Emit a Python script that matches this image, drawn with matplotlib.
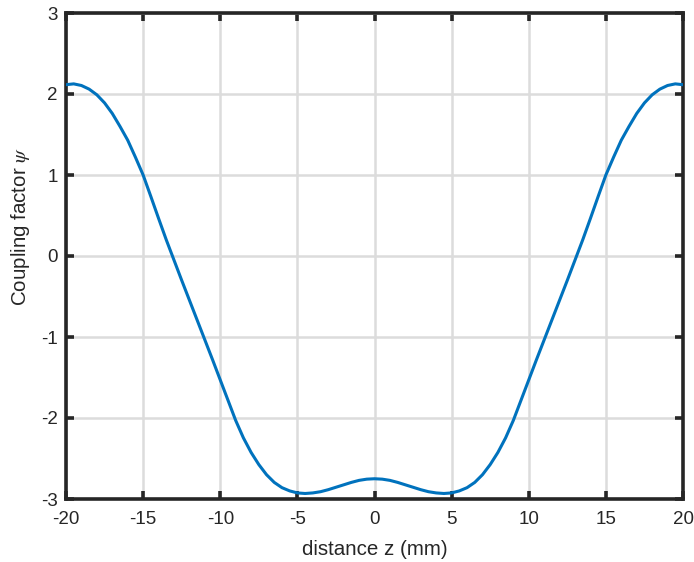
import numpy as np
import matplotlib
matplotlib.use("Agg")
import matplotlib.pyplot as plt

plt.rcParams['font.family'] = ['Liberation Sans', 'DejaVu Sans']
plt.rcParams['axes.unicode_minus'] = False
plt.rcParams['mathtext.fontset'] = 'stix'

# distance z (mm), half-mm steps (curve is symmetric about z = 0)
z_half = [0, 0.5, 1, 1.5, 2, 2.5, 3, 3.5, 4, 4.5, 5, 5.5, 6, 6.5, 7, 7.5, 8, 8.5,
          9, 9.5, 10, 10.5, 11, 11.5, 12, 12.5, 13, 13.5, 14, 14.5, 15, 15.5,
          16, 16.5, 17, 17.5, 18, 18.5, 19, 19.5, 20]
psi_half = [-2.75, -2.755, -2.77, -2.795, -2.825, -2.855, -2.885, -2.91, -2.925, -2.932,
            -2.925, -2.90, -2.86, -2.795, -2.70, -2.575, -2.425, -2.245, -2.03, -1.78,
            -1.53, -1.28, -1.035, -0.79, -0.545, -0.30, -0.05, 0.20, 0.465, 0.735,
            1.00, 1.22, 1.43, 1.60, 1.76, 1.89, 1.99, 2.06, 2.105, 2.125, 2.115]

z = [-v for v in z_half[:0:-1]] + z_half
psi = psi_half[:0:-1] + psi_half

xticks = [-20, -15, -10, -5, 0, 5, 10, 15, 20]
yticks = [-3, -2, -1, 0, 1, 2, 3]

fig = plt.figure(figsize=(6.94, 5.62), dpi=100)
ax = fig.add_axes([66/694, 63/562, 617/694, 486/562])

ax.plot(z, psi, color='#0072BD', lw=2.2, solid_joinstyle='round', zorder=3)

ax.set_xlim(-20, 20)
ax.set_ylim(-3, 3)
ax.set_xticks(xticks)
ax.set_yticks(yticks)
ax.set_xticklabels([str(t) for t in xticks])
ax.set_yticklabels([str(t) for t in yticks])

ax.grid(True, color='#dcdcdc', lw=1.8)
ax.set_axisbelow(True)
for s in ax.spines.values():
    s.set_color('#262626')
    s.set_linewidth(2.6)
ax.tick_params(direction='in', length=5.5, width=2.6, color='#262626',
               top=True, right=True, labelsize=13.5, labelcolor='#262626')
ax.tick_params(axis='x', pad=9)
ax.tick_params(axis='y', pad=6)

ax.set_xlabel('distance z (mm)', fontsize=14.8, color='#262626')
ax.set_ylabel(r'Coupling factor $\psi$', fontsize=14.8, color='#262626')
ax.xaxis.set_label_coords(0.5, -0.084)
ax.yaxis.set_label_coords(-0.055, 0.56)

fig.savefig('out.png', dpi=100)
